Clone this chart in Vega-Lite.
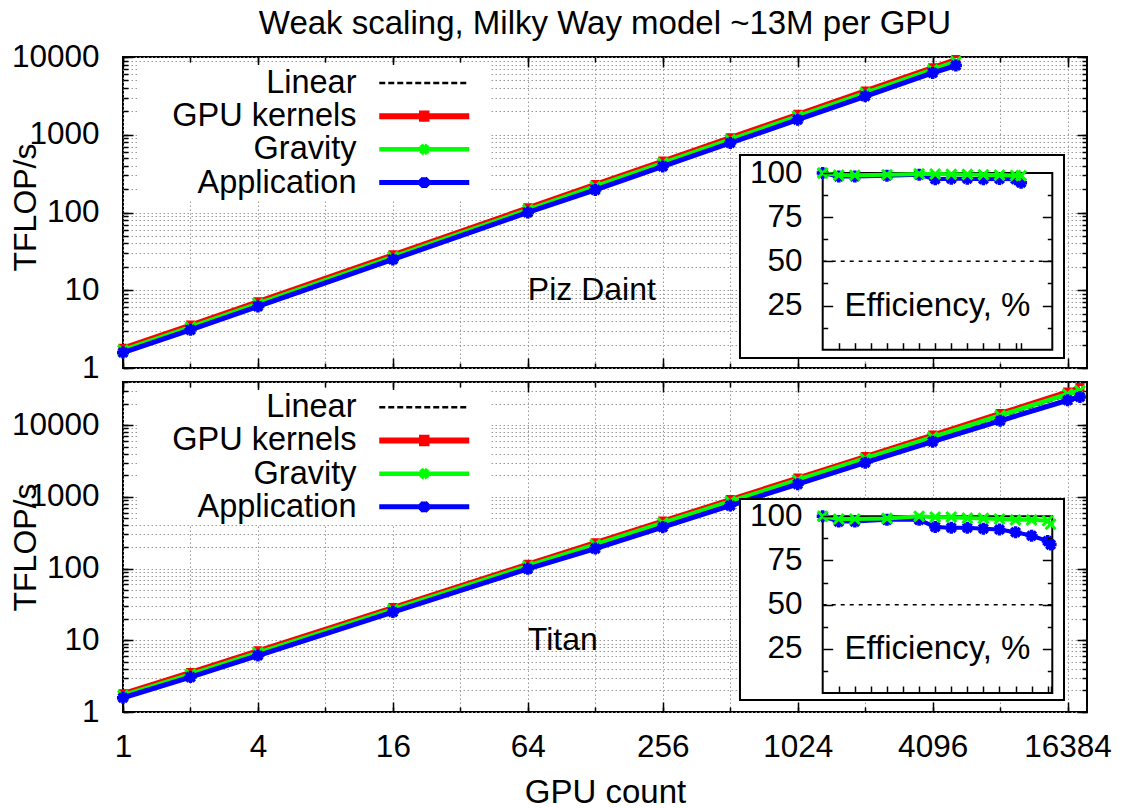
{
 "$schema": "https://vega.github.io/schema/vega-lite/v6.json",
 "background": "white",
 "padding": {"left": 8, "top": 7, "right": 10, "bottom": 2},
 "config": {
  "font": "Liberation Sans",
  "view": {"stroke": "black", "strokeWidth": 2},
  "axis": {"labelColor": "black", "titleColor": "black", "labelFont": "Liberation Sans", "titleFont": "Liberation Sans", "titleFontWeight": "normal"},
  "text": {"font": "Liberation Sans", "color": "black"}
 },
 "datasets": {
  "daint": [
   {"gpus":1,"series":"Linear","tflops":1.58},{"gpus":2,"series":"Linear","tflops":3.16},{"gpus":4,"series":"Linear","tflops":6.32},{"gpus":16,"series":"Linear","tflops":25.28},{"gpus":64,"series":"Linear","tflops":101.1},{"gpus":128,"series":"Linear","tflops":202.2},{"gpus":256,"series":"Linear","tflops":404.5},{"gpus":512,"series":"Linear","tflops":809},{"gpus":1024,"series":"Linear","tflops":1618},{"gpus":2048,"series":"Linear","tflops":3236},{"gpus":4096,"series":"Linear","tflops":6472},{"gpus":5200,"series":"Linear","tflops":8216},
   {"gpus":1,"series":"GPU kernels","tflops":1.8},{"gpus":2,"series":"GPU kernels","tflops":3.564},{"gpus":4,"series":"GPU kernels","tflops":7.128},{"gpus":16,"series":"GPU kernels","tflops":28.57},{"gpus":64,"series":"GPU kernels","tflops":114.7},{"gpus":128,"series":"GPU kernels","tflops":229.3},{"gpus":256,"series":"GPU kernels","tflops":458.5},{"gpus":512,"series":"GPU kernels","tflops":916.1},{"gpus":1024,"series":"GPU kernels","tflops":1830},{"gpus":2048,"series":"GPU kernels","tflops":3657},{"gpus":4096,"series":"GPU kernels","tflops":7299},{"gpus":5200,"series":"GPU kernels","tflops":9266},
   {"gpus":1,"series":"Gravity","tflops":1.7},{"gpus":2,"series":"Gravity","tflops":3.359},{"gpus":4,"series":"Gravity","tflops":6.712},{"gpus":16,"series":"Gravity","tflops":26.93},{"gpus":64,"series":"Gravity","tflops":108.3},{"gpus":128,"series":"Gravity","tflops":216.3},{"gpus":256,"series":"Gravity","tflops":432.2},{"gpus":512,"series":"Gravity","tflops":863.4},{"gpus":1024,"series":"Gravity","tflops":1723},{"gpus":2048,"series":"Gravity","tflops":3440},{"gpus":4096,"series":"Gravity","tflops":6866},{"gpus":5200,"series":"Gravity","tflops":8707},
   {"gpus":1,"series":"Application","tflops":1.58},{"gpus":2,"series":"Application","tflops":3.097},{"gpus":4,"series":"Application","tflops":6.194},{"gpus":16,"series":"Application","tflops":24.9},{"gpus":64,"series":"Application","tflops":100.1},{"gpus":128,"series":"Application","tflops":195.2},{"gpus":256,"series":"Application","tflops":391.5},{"gpus":512,"series":"Application","tflops":783.1},{"gpus":1024,"series":"Application","tflops":1561},{"gpus":2048,"series":"Application","tflops":3126},{"gpus":4096,"series":"Application","tflops":6245},{"gpus":5200,"series":"Application","tflops":7764}
  ],
  "titan": [
   {"gpus":1,"series":"Linear","tflops":1.58},{"gpus":2,"series":"Linear","tflops":3.16},{"gpus":4,"series":"Linear","tflops":6.32},{"gpus":16,"series":"Linear","tflops":25.28},{"gpus":64,"series":"Linear","tflops":101.1},{"gpus":128,"series":"Linear","tflops":202.2},{"gpus":256,"series":"Linear","tflops":404.5},{"gpus":512,"series":"Linear","tflops":809},{"gpus":1024,"series":"Linear","tflops":1618},{"gpus":2048,"series":"Linear","tflops":3236},{"gpus":4096,"series":"Linear","tflops":6472},{"gpus":8192,"series":"Linear","tflops":12943},{"gpus":16384,"series":"Linear","tflops":25887},{"gpus":18600,"series":"Linear","tflops":29388},
   {"gpus":1,"series":"GPU kernels","tflops":1.8},{"gpus":2,"series":"GPU kernels","tflops":3.564},{"gpus":4,"series":"GPU kernels","tflops":7.128},{"gpus":16,"series":"GPU kernels","tflops":28.57},{"gpus":64,"series":"GPU kernels","tflops":115.2},{"gpus":128,"series":"GPU kernels","tflops":229.9},{"gpus":256,"series":"GPU kernels","tflops":459.9},{"gpus":512,"series":"GPU kernels","tflops":917},{"gpus":1024,"series":"GPU kernels","tflops":1830},{"gpus":2048,"series":"GPU kernels","tflops":3650},{"gpus":4096,"series":"GPU kernels","tflops":7284},{"gpus":8192,"series":"GPU kernels","tflops":14569},{"gpus":16384,"series":"GPU kernels","tflops":29049},{"gpus":18600,"series":"GPU kernels","tflops":33490},
   {"gpus":1,"series":"Gravity","tflops":1.7},{"gpus":2,"series":"Gravity","tflops":3.349},{"gpus":4,"series":"Gravity","tflops":6.698},{"gpus":16,"series":"Gravity","tflops":26.87},{"gpus":64,"series":"Gravity","tflops":108.8},{"gpus":128,"series":"Gravity","tflops":216.5},{"gpus":256,"series":"Gravity","tflops":433},{"gpus":512,"series":"Gravity","tflops":861.7},{"gpus":1024,"series":"Gravity","tflops":1720},{"gpus":2048,"series":"Gravity","tflops":3429},{"gpus":4096,"series":"Gravity","tflops":6824},{"gpus":8192,"series":"Gravity","tflops":13648},{"gpus":16384,"series":"Gravity","tflops":27157},{"gpus":18600,"series":"Gravity","tflops":30197},
   {"gpus":1,"series":"Application","tflops":1.58},{"gpus":2,"series":"Application","tflops":3.065},{"gpus":4,"series":"Application","tflops":6.13},{"gpus":16,"series":"Application","tflops":24.77},{"gpus":64,"series":"Application","tflops":99.1},{"gpus":128,"series":"Application","tflops":190.1},{"gpus":256,"series":"Application","tflops":378.2},{"gpus":512,"series":"Application","tflops":756.4},{"gpus":1024,"series":"Application","tflops":1505},{"gpus":2048,"series":"Application","tflops":2993},{"gpus":4096,"series":"Application","tflops":5889},{"gpus":8192,"series":"Application","tflops":11520},{"gpus":16384,"series":"Application","tflops":22263},{"gpus":18600,"series":"Application","tflops":24686}
  ],
  "daint_eff": [
   {"gpus":1,"series":"Gravity","eff":100},{"gpus":2,"series":"Gravity","eff":98.8},{"gpus":4,"series":"Gravity","eff":98.7},{"gpus":16,"series":"Gravity","eff":99},{"gpus":64,"series":"Gravity","eff":99.5},{"gpus":128,"series":"Gravity","eff":99.4},{"gpus":256,"series":"Gravity","eff":99.3},{"gpus":512,"series":"Gravity","eff":99.2},{"gpus":1024,"series":"Gravity","eff":99},{"gpus":2048,"series":"Gravity","eff":98.8},{"gpus":4096,"series":"Gravity","eff":98.6},{"gpus":5200,"series":"Gravity","eff":98.5},
   {"gpus":1,"series":"Application","eff":100},{"gpus":2,"series":"Application","eff":98},{"gpus":4,"series":"Application","eff":98},{"gpus":16,"series":"Application","eff":98.5},{"gpus":64,"series":"Application","eff":99},{"gpus":128,"series":"Application","eff":96.5},{"gpus":256,"series":"Application","eff":96.8},{"gpus":512,"series":"Application","eff":96.8},{"gpus":1024,"series":"Application","eff":96.5},{"gpus":2048,"series":"Application","eff":96.6},{"gpus":4096,"series":"Application","eff":96.5},{"gpus":5200,"series":"Application","eff":94.5}
  ],
  "titan_eff": [
   {"gpus":1,"series":"Gravity","eff":100},{"gpus":2,"series":"Gravity","eff":98.5},{"gpus":4,"series":"Gravity","eff":98.5},{"gpus":16,"series":"Gravity","eff":98.8},{"gpus":64,"series":"Gravity","eff":100},{"gpus":128,"series":"Gravity","eff":99.5},{"gpus":256,"series":"Gravity","eff":99.5},{"gpus":512,"series":"Gravity","eff":99},{"gpus":1024,"series":"Gravity","eff":98.8},{"gpus":2048,"series":"Gravity","eff":98.5},{"gpus":4096,"series":"Gravity","eff":98},{"gpus":8192,"series":"Gravity","eff":98},{"gpus":16384,"series":"Gravity","eff":97.5},{"gpus":18600,"series":"Gravity","eff":95.5},
   {"gpus":1,"series":"Application","eff":100},{"gpus":2,"series":"Application","eff":97},{"gpus":4,"series":"Application","eff":97},{"gpus":16,"series":"Application","eff":98},{"gpus":64,"series":"Application","eff":98},{"gpus":128,"series":"Application","eff":94},{"gpus":256,"series":"Application","eff":93.5},{"gpus":512,"series":"Application","eff":93.5},{"gpus":1024,"series":"Application","eff":93},{"gpus":2048,"series":"Application","eff":92.5},{"gpus":4096,"series":"Application","eff":91},{"gpus":8192,"series":"Application","eff":89},{"gpus":16384,"series":"Application","eff":86},{"gpus":18600,"series":"Application","eff":84}
  ]
 },
 "spacing": 14,
 "bounds": "flush",
 "resolve": {"scale": {"color": "independent"}, "legend": {"color": "independent"}},
 "vconcat": [
  {
   "title": {"text": "Weak scaling, Milky Way model ~13M per GPU", "fontSize": 33, "fontWeight": "normal", "anchor": "middle", "baseline": "alphabetic", "offset": -26, "font": "Liberation Sans", "color": "black"},
   "width": 964,
   "height": 311,
   "layer": [
    {
     "layer": [
      {"data": {"name": "daint"}, "mark": {"type": "point", "opacity": 0},
       "encoding": {
        "x": {"field": "gpus", "type": "quantitative", "scale": {"type": "log", "domain": [1, 20000], "nice": false}, "axis": {"orient": "bottom", "values": [1,2,4,8,16,32,64,128,256,512,1024,2048,4096,8192,16384], "labels": false, "title": null, "domain": false, "tickSize": -5, "tickWidth": 1.5, "tickColor": "black", "grid": true, "gridColor": "#9a9a9a", "gridDash": [1.5, 2.5], "gridWidth": 1}},
        "y": {"field": "tflops", "type": "quantitative", "scale": {"type": "log", "domain": [1, 10000], "nice": false}, "axis": {"orient": "left", "values": [1,2,3,4,5,6,7,8,9,10,20,30,40,50,60,70,80,90,100,200,300,400,500,600,700,800,900,1000,2000,3000,4000,5000,6000,7000,8000,9000,10000], "labels": false, "title": null, "domain": false, "tickSize": -5, "tickWidth": 1.5, "tickColor": "black", "grid": true, "gridColor": "#9a9a9a", "gridDash": [1.5, 2.5], "gridWidth": 1}}
       }},
      {"data": {"name": "daint"}, "mark": {"type": "point", "opacity": 0},
       "encoding": {
        "x": {"field": "gpus", "type": "quantitative", "scale": {"type": "log", "domain": [1, 20000], "nice": false}, "axis": {"orient": "bottom", "values": [1,4,16,64,256,1024,4096,16384], "labels": false, "title": null, "domain": false, "tickSize": -10, "tickWidth": 1.5, "tickColor": "black", "grid": false}},
        "y": {"field": "tflops", "type": "quantitative", "scale": {"type": "log", "domain": [1, 10000], "nice": false}, "axis": {"orient": "left", "values": [1,10,100,1000,10000], "format": "d", "labelFontSize": 31.5, "labelPadding": 34, "labelFlush": false, "labelOverlap": false, "title": "TFLOP/s", "titleFontSize": 32, "titleX": -98, "titleY": 150, "titleAngle": -90, "titleAlign": "center", "titleBaseline": "middle", "domain": false, "tickSize": -10, "tickWidth": 1.5, "tickColor": "black", "grid": false}}
       }},
      {"data": {"name": "daint"}, "mark": {"type": "point", "opacity": 0},
       "encoding": {
        "x": {"field": "gpus", "type": "quantitative", "scale": {"type": "log", "domain": [1, 20000], "nice": false}, "axis": {"orient": "top", "values": [1,2,4,8,16,32,64,128,256,512,1024,2048,4096,8192,16384], "labels": false, "title": null, "domain": false, "tickSize": -5, "tickWidth": 1.5, "tickColor": "black", "grid": false}},
        "y": {"field": "tflops", "type": "quantitative", "scale": {"type": "log", "domain": [1, 10000], "nice": false}, "axis": {"orient": "right", "values": [1,2,3,4,5,6,7,8,9,10,20,30,40,50,60,70,80,90,100,200,300,400,500,600,700,800,900,1000,2000,3000,4000,5000,6000,7000,8000,9000,10000], "labels": false, "title": null, "domain": false, "tickSize": -5, "tickWidth": 1.5, "tickColor": "black", "grid": false}}
       }},
      {"data": {"name": "daint"}, "mark": {"type": "point", "opacity": 0},
       "encoding": {
        "x": {"field": "gpus", "type": "quantitative", "scale": {"type": "log", "domain": [1, 20000], "nice": false}, "axis": {"orient": "top", "values": [1,4,16,64,256,1024,4096,16384], "labels": false, "title": null, "domain": false, "tickSize": -10, "tickWidth": 1.5, "tickColor": "black", "grid": false}},
        "y": {"field": "tflops", "type": "quantitative", "scale": {"type": "log", "domain": [1, 10000], "nice": false}, "axis": {"orient": "right", "values": [1,10,100,1000,10000], "labels": false, "title": null, "domain": false, "tickSize": -10, "tickWidth": 1.5, "tickColor": "black", "grid": false}}
       }},
      {"data": {"values": [{}]},
       "mark": {"type": "rect", "fill": "white", "strokeWidth": 0},
       "encoding": {
        "x": {"datum": 1.178, "type": "quantitative", "scale": {"type": "log", "domain": [1, 20000], "nice": false}, "axis": null},
        "x2": {"datum": 43.1},
        "y": {"datum": 145, "type": "quantitative", "scale": {"type": "log", "domain": [1, 10000], "nice": false}, "axis": null},
        "y2": {"datum": 7890}
       }},
      {"data": {"name": "daint"}, "transform": [{"filter": "datum.series === 'Linear'"}],
       "mark": {"type": "line", "strokeWidth": 2, "strokeDash": [6, 4]},
       "encoding": {
        "x": {"field": "gpus", "type": "quantitative", "scale": {"type": "log", "domain": [1, 20000], "nice": false}, "axis": null},
        "y": {"field": "tflops", "type": "quantitative", "scale": {"type": "log", "domain": [1, 10000], "nice": false}, "axis": null},
        "color": {"field": "series", "type": "nominal", "scale": {"domain": ["Linear", "GPU kernels", "Gravity", "Application"], "range": ["#000000", "#ff0000", "#00ff00", "#0000ff"]},
         "legend": {"orient": "none", "legendX": 280, "legendY": 4.7, "title": null, "direction": "vertical", "symbolType": "M-1,0H1", "symbolSize": 8100, "symbolOffset": 0, "symbolStrokeWidth": 1.5, "labelAlign": "right", "labelOffset": -84, "labelFontSize": 32.5, "labelFont": "Liberation Sans", "labelColor": "black", "labelLimit": 500, "rowPadding": 0.2, "padding": 5, "zindex": 1,
          "encode": {"symbols": {"update": {
           "shape": {"signal": "datum.value === 'Linear' ? 'M-1,0H1' : datum.value === 'GPU kernels' ? 'M-1,0H1M-0.05,-0.06H0.05V0.06H-0.05Z' : datum.value === 'Gravity' ? 'M-1,0H1M-0.07,-0.1L0.07,0.1M-0.07,0.1L0.07,-0.1' : 'M-1,0H1M0,-0.12V0.12M-0.09,-0.09L0.09,0.09M-0.09,0.09L0.09,-0.09'"},
           "strokeWidth": {"signal": "datum.value === 'Linear' ? 2.5 : datum.value === 'GPU kernels' ? 6 : datum.value === 'Gravity' ? 4.5 : 5"},
           "strokeDash": {"signal": "datum.value === 'Linear' ? [6, 3] : [1, 0]"},
           "fill": {"value": "transparent"}
          }}}}}
       }},
      {"data": {"name": "daint"}, "transform": [{"filter": "datum.series === 'GPU kernels'"}],
       "mark": {"type": "line", "strokeWidth": 5},
       "encoding": {
        "x": {"field": "gpus", "type": "quantitative", "scale": {"type": "log", "domain": [1, 20000], "nice": false}, "axis": null},
        "y": {"field": "tflops", "type": "quantitative", "scale": {"type": "log", "domain": [1, 10000], "nice": false}, "axis": null},
        "color": {"field": "series", "type": "nominal"}
       }},
      {"data": {"name": "daint"}, "transform": [{"filter": "datum.series === 'GPU kernels'"}],
       "mark": {"type": "point", "shape": "M-0.6,-0.6H0.6V0.6H-0.6Z", "size": 100, "filled": false, "stroke": "#ff0000", "strokeWidth": 3, "opacity": 1},
       "encoding": {
        "x": {"field": "gpus", "type": "quantitative", "scale": {"type": "log", "domain": [1, 20000], "nice": false}, "axis": null},
        "y": {"field": "tflops", "type": "quantitative", "scale": {"type": "log", "domain": [1, 10000], "nice": false}, "axis": null}
       }},
      {"data": {"name": "daint"}, "transform": [{"filter": "datum.series === 'Gravity'"}],
       "mark": {"type": "line", "strokeWidth": 4.5},
       "encoding": {
        "x": {"field": "gpus", "type": "quantitative", "scale": {"type": "log", "domain": [1, 20000], "nice": false}, "axis": null},
        "y": {"field": "tflops", "type": "quantitative", "scale": {"type": "log", "domain": [1, 10000], "nice": false}, "axis": null},
        "color": {"field": "series", "type": "nominal"}
       }},
      {"data": {"name": "daint"}, "transform": [{"filter": "datum.series === 'Gravity'"}],
       "mark": {"type": "point", "shape": "M-1,-1L1,1M-1,1L1,-1", "size": 100, "filled": false, "stroke": "#00ff00", "strokeWidth": 3, "opacity": 1},
       "encoding": {
        "x": {"field": "gpus", "type": "quantitative", "scale": {"type": "log", "domain": [1, 20000], "nice": false}, "axis": null},
        "y": {"field": "tflops", "type": "quantitative", "scale": {"type": "log", "domain": [1, 10000], "nice": false}, "axis": null}
       }},
      {"data": {"name": "daint"}, "transform": [{"filter": "datum.series === 'Application'"}],
       "mark": {"type": "line", "strokeWidth": 5},
       "encoding": {
        "x": {"field": "gpus", "type": "quantitative", "scale": {"type": "log", "domain": [1, 20000], "nice": false}, "axis": null},
        "y": {"field": "tflops", "type": "quantitative", "scale": {"type": "log", "domain": [1, 10000], "nice": false}, "axis": null},
        "color": {"field": "series", "type": "nominal"}
       }},
      {"data": {"name": "daint"}, "transform": [{"filter": "datum.series === 'Application'"}],
       "mark": {"type": "point", "shape": "M-1,0H1M0,-1V1M-0.72,-0.72L0.72,0.72M-0.72,0.72L0.72,-0.72", "size": 144, "filled": false, "stroke": "#0000ff", "strokeWidth": 3.5, "opacity": 1},
       "encoding": {
        "x": {"field": "gpus", "type": "quantitative", "scale": {"type": "log", "domain": [1, 20000], "nice": false}, "axis": null},
        "y": {"field": "tflops", "type": "quantitative", "scale": {"type": "log", "domain": [1, 10000], "nice": false}, "axis": null}
       }},
      {"data": {"values": [{}]},
       "mark": {"type": "text", "text": "Piz Daint", "fontSize": 32, "align": "left", "baseline": "middle", "font": "Liberation Sans", "color": "black"},
       "encoding": {
        "x": {"datum": 64, "type": "quantitative", "scale": {"type": "log", "domain": [1, 20000], "nice": false}, "axis": null},
        "y": {"datum": 10, "type": "quantitative", "scale": {"type": "log", "domain": [1, 10000], "nice": false}, "axis": null}
       }}
     ],
     "resolve": {"axis": {"x": "independent", "y": "independent"}}
    },
    {
     "layer": [
      {"data": {"values": [{}]},
       "mark": {"type": "rect", "fill": "white", "stroke": "black", "strokeWidth": 2},
       "encoding": {
        "x": {"datum": 0.0282, "type": "quantitative", "scale": {"type": "log", "domain": [1, 20000], "range": [699.7, 929.3], "nice": false}, "axis": null},
        "x2": {"datum": 33140},
        "y": {"datum": -4.7, "type": "quantitative", "scale": {"type": "linear", "domain": [0, 100], "range": [292.7, 116], "nice": false, "zero": false}, "axis": null},
        "y2": {"datum": 110.2}
       }},
      {"data": {"name": "daint_eff"}, "mark": {"type": "point", "opacity": 0},
       "encoding": {
        "x": {"field": "gpus", "type": "quantitative", "scale": {"type": "log", "domain": [1, 20000], "range": [699.7, 929.3], "nice": false}, "axis": {"orient": "bottom", "offset": -18.3, "values": [2,4,8,16,32,64,128,256,512,1024,2048,4096,5200], "labels": false, "title": null, "domain": false, "tickSize": -7, "tickWidth": 1.5, "tickColor": "black", "grid": false, "zindex": 1}},
        "y": {"field": "eff", "type": "quantitative", "scale": {"type": "linear", "domain": [0, 100], "range": [292.7, 116], "nice": false, "zero": false}, "axis": {"orient": "left", "offset": -699.7, "values": [12.5, 37.5, 62.5, 87.5], "labels": false, "title": null, "domain": false, "tickSize": -5, "tickWidth": 1.5, "tickColor": "black", "grid": false, "zindex": 1}}
       }},
      {"data": {"name": "daint_eff"}, "mark": {"type": "point", "opacity": 0},
       "encoding": {
        "x": {"field": "gpus", "type": "quantitative", "scale": {"type": "log", "domain": [1, 20000], "range": [699.7, 929.3], "nice": false}, "axis": null},
        "y": {"field": "eff", "type": "quantitative", "scale": {"type": "linear", "domain": [0, 100], "range": [292.7, 116], "nice": false, "zero": false}, "axis": {"orient": "left", "offset": -699.7, "values": [25, 50, 75, 100], "format": "d", "labelFontSize": 31.5, "labelPadding": 30.7, "labelFlush": false, "labelOverlap": false, "title": null, "domain": false, "tickSize": -10, "tickWidth": 1.5, "tickColor": "black", "grid": false, "zindex": 1}}
       }},
      {"data": {"name": "daint_eff"}, "mark": {"type": "point", "opacity": 0},
       "encoding": {
        "x": {"field": "gpus", "type": "quantitative", "scale": {"type": "log", "domain": [1, 20000], "range": [699.7, 929.3], "nice": false}, "axis": null},
        "y": {"field": "eff", "type": "quantitative", "scale": {"type": "linear", "domain": [0, 100], "range": [292.7, 116], "nice": false, "zero": false}, "axis": {"orient": "right", "offset": -34.7, "values": [12.5, 37.5, 62.5, 87.5], "labels": false, "title": null, "domain": false, "tickSize": -5, "tickWidth": 1.5, "tickColor": "black", "grid": false, "zindex": 1}}
       }},
      {"data": {"name": "daint_eff"}, "mark": {"type": "point", "opacity": 0},
       "encoding": {
        "x": {"field": "gpus", "type": "quantitative", "scale": {"type": "log", "domain": [1, 20000], "range": [699.7, 929.3], "nice": false}, "axis": null},
        "y": {"field": "eff", "type": "quantitative", "scale": {"type": "linear", "domain": [0, 100], "range": [292.7, 116], "nice": false, "zero": false}, "axis": {"orient": "right", "offset": -34.7, "values": [25, 50, 75], "labels": false, "title": null, "domain": false, "tickSize": -10, "tickWidth": 1.5, "tickColor": "black", "grid": false, "zindex": 1}}
       }},
      {"data": {"values": [{}]},
       "mark": {"type": "rule", "stroke": "black", "strokeWidth": 1.5, "strokeDash": [4, 5]},
       "encoding": {
        "x": {"datum": 1, "type": "quantitative", "scale": {"type": "log", "domain": [1, 20000], "range": [699.7, 929.3], "nice": false}, "axis": null},
        "x2": {"datum": 20000},
        "y": {"datum": 50, "type": "quantitative", "scale": {"type": "linear", "domain": [0, 100], "range": [292.7, 116], "nice": false, "zero": false}, "axis": null}
       }},
      {"data": {"values": [{}]},
       "mark": {"type": "rect", "fill": "white", "fillOpacity": 0, "stroke": "black", "strokeWidth": 2},
       "encoding": {
        "x": {"datum": 1, "type": "quantitative", "scale": {"type": "log", "domain": [1, 20000], "range": [699.7, 929.3], "nice": false}, "axis": null},
        "x2": {"datum": 20000},
        "y": {"datum": 0, "type": "quantitative", "scale": {"type": "linear", "domain": [0, 100], "range": [292.7, 116], "nice": false, "zero": false}, "axis": null},
        "y2": {"datum": 100}
       }},
      {"data": {"name": "daint_eff"}, "transform": [{"filter": "datum.series === 'Application'"}],
       "mark": {"type": "line", "stroke": "#0000ff", "strokeWidth": 4},
       "encoding": {
        "x": {"field": "gpus", "type": "quantitative", "scale": {"type": "log", "domain": [1, 20000], "range": [699.7, 929.3], "nice": false}, "axis": null},
        "y": {"field": "eff", "type": "quantitative", "scale": {"type": "linear", "domain": [0, 100], "range": [292.7, 116], "nice": false, "zero": false}, "axis": null}
       }},
      {"data": {"name": "daint_eff"}, "transform": [{"filter": "datum.series === 'Application'"}],
       "mark": {"type": "point", "shape": "M-1,0H1M0,-1V1M-0.72,-0.72L0.72,0.72M-0.72,0.72L0.72,-0.72", "size": 144, "filled": false, "stroke": "#0000ff", "strokeWidth": 3.5, "opacity": 1},
       "encoding": {
        "x": {"field": "gpus", "type": "quantitative", "scale": {"type": "log", "domain": [1, 20000], "range": [699.7, 929.3], "nice": false}, "axis": null},
        "y": {"field": "eff", "type": "quantitative", "scale": {"type": "linear", "domain": [0, 100], "range": [292.7, 116], "nice": false, "zero": false}, "axis": null}
       }},
      {"data": {"name": "daint_eff"}, "transform": [{"filter": "datum.series === 'Gravity'"}],
       "mark": {"type": "line", "stroke": "#00ff00", "strokeWidth": 4},
       "encoding": {
        "x": {"field": "gpus", "type": "quantitative", "scale": {"type": "log", "domain": [1, 20000], "range": [699.7, 929.3], "nice": false}, "axis": null},
        "y": {"field": "eff", "type": "quantitative", "scale": {"type": "linear", "domain": [0, 100], "range": [292.7, 116], "nice": false, "zero": false}, "axis": null}
       }},
      {"data": {"name": "daint_eff"}, "transform": [{"filter": "datum.series === 'Gravity'"}],
       "mark": {"type": "point", "shape": "M-1,-1L1,1M-1,1L1,-1", "size": 100, "filled": false, "stroke": "#00ff00", "strokeWidth": 3, "opacity": 1},
       "encoding": {
        "x": {"field": "gpus", "type": "quantitative", "scale": {"type": "log", "domain": [1, 20000], "range": [699.7, 929.3], "nice": false}, "axis": null},
        "y": {"field": "eff", "type": "quantitative", "scale": {"type": "linear", "domain": [0, 100], "range": [292.7, 116], "nice": false, "zero": false}, "axis": null}
       }},
      {"data": {"values": [{}]},
       "mark": {"type": "text", "text": "Efficiency, %", "fontSize": 33, "align": "center", "baseline": "middle", "font": "Liberation Sans", "color": "black"},
       "encoding": {
        "x": {"datum": 141, "type": "quantitative", "scale": {"type": "log", "domain": [1, 20000], "range": [699.7, 929.3], "nice": false}, "axis": null},
        "y": {"datum": 25, "type": "quantitative", "scale": {"type": "linear", "domain": [0, 100], "range": [292.7, 116], "nice": false, "zero": false}, "axis": null}
       }}
     ],
     "resolve": {"axis": {"x": "independent", "y": "independent"}}
    }
   ],
   "resolve": {"scale": {"x": "independent", "y": "independent"}, "axis": {"x": "independent", "y": "independent"}}
  },
  {
   "width": 964,
   "height": 330,
   "layer": [
    {
     "layer": [
      {"data": {"name": "titan"}, "mark": {"type": "point", "opacity": 0},
       "encoding": {
        "x": {"field": "gpus", "type": "quantitative", "scale": {"type": "log", "domain": [1, 20000], "nice": false}, "axis": {"orient": "bottom", "values": [1,2,4,8,16,32,64,128,256,512,1024,2048,4096,8192,16384], "labels": false, "title": null, "domain": false, "tickSize": -5, "tickWidth": 1.5, "tickColor": "black", "grid": true, "gridColor": "#9a9a9a", "gridDash": [1.5, 2.5], "gridWidth": 1}},
        "y": {"field": "tflops", "type": "quantitative", "scale": {"type": "log", "domain": [1, 40000], "nice": false}, "axis": {"orient": "left", "values": [1,2,3,4,5,6,7,8,9,10,20,30,40,50,60,70,80,90,100,200,300,400,500,600,700,800,900,1000,2000,3000,4000,5000,6000,7000,8000,9000,10000,20000,30000,40000], "labels": false, "title": null, "domain": false, "tickSize": -5, "tickWidth": 1.5, "tickColor": "black", "grid": true, "gridColor": "#9a9a9a", "gridDash": [1.5, 2.5], "gridWidth": 1}}
       }},
      {"data": {"name": "titan"}, "mark": {"type": "point", "opacity": 0},
       "encoding": {
        "x": {"field": "gpus", "type": "quantitative", "scale": {"type": "log", "domain": [1, 20000], "nice": false}, "axis": {"orient": "bottom", "values": [1,4,16,64,256,1024,4096,16384], "format": "d", "labelFontSize": 31.5, "labelPadding": 29.4, "labelFlush": false, "labelOverlap": false, "title": "GPU count", "titleFontSize": 33, "titleX": 482, "titleY": 80, "titleAlign": "center", "titleBaseline": "middle", "domain": false, "tickSize": -10, "tickWidth": 1.5, "tickColor": "black", "grid": false}},
        "y": {"field": "tflops", "type": "quantitative", "scale": {"type": "log", "domain": [1, 40000], "nice": false}, "axis": {"orient": "left", "values": [1,10,100,1000,10000], "format": "d", "labelFontSize": 31.5, "labelPadding": 34, "labelFlush": false, "labelOverlap": false, "title": "TFLOP/s", "titleFontSize": 32, "titleX": -98, "titleY": 165, "titleAngle": -90, "titleAlign": "center", "titleBaseline": "middle", "domain": false, "tickSize": -10, "tickWidth": 1.5, "tickColor": "black", "grid": false}}
       }},
      {"data": {"name": "titan"}, "mark": {"type": "point", "opacity": 0},
       "encoding": {
        "x": {"field": "gpus", "type": "quantitative", "scale": {"type": "log", "domain": [1, 20000], "nice": false}, "axis": {"orient": "top", "values": [1,2,4,8,16,32,64,128,256,512,1024,2048,4096,8192,16384], "labels": false, "title": null, "domain": false, "tickSize": -5, "tickWidth": 1.5, "tickColor": "black", "grid": false}},
        "y": {"field": "tflops", "type": "quantitative", "scale": {"type": "log", "domain": [1, 40000], "nice": false}, "axis": {"orient": "right", "values": [1,2,3,4,5,6,7,8,9,10,20,30,40,50,60,70,80,90,100,200,300,400,500,600,700,800,900,1000,2000,3000,4000,5000,6000,7000,8000,9000,10000,20000,30000,40000], "labels": false, "title": null, "domain": false, "tickSize": -5, "tickWidth": 1.5, "tickColor": "black", "grid": false}}
       }},
      {"data": {"name": "titan"}, "mark": {"type": "point", "opacity": 0},
       "encoding": {
        "x": {"field": "gpus", "type": "quantitative", "scale": {"type": "log", "domain": [1, 20000], "nice": false}, "axis": {"orient": "top", "values": [1,4,16,64,256,1024,4096,16384], "labels": false, "title": null, "domain": false, "tickSize": -10, "tickWidth": 1.5, "tickColor": "black", "grid": false}},
        "y": {"field": "tflops", "type": "quantitative", "scale": {"type": "log", "domain": [1, 40000], "nice": false}, "axis": {"orient": "right", "values": [1,10,100,1000,10000], "labels": false, "title": null, "domain": false, "tickSize": -10, "tickWidth": 1.5, "tickColor": "black", "grid": false}}
       }},
      {"data": {"values": [{}]},
       "mark": {"type": "rect", "fill": "white", "strokeWidth": 0},
       "encoding": {
        "x": {"datum": 1.178, "type": "quantitative", "scale": {"type": "log", "domain": [1, 20000], "nice": false}, "axis": null},
        "x2": {"datum": 43.1},
        "y": {"datum": 405, "type": "quantitative", "scale": {"type": "log", "domain": [1, 40000], "nice": false}, "axis": null},
        "y2": {"datum": 30900}
       }},
      {"data": {"name": "titan"}, "transform": [{"filter": "datum.series === 'Linear'"}],
       "mark": {"type": "line", "strokeWidth": 2, "strokeDash": [6, 4]},
       "encoding": {
        "x": {"field": "gpus", "type": "quantitative", "scale": {"type": "log", "domain": [1, 20000], "nice": false}, "axis": null},
        "y": {"field": "tflops", "type": "quantitative", "scale": {"type": "log", "domain": [1, 40000], "nice": false}, "axis": null},
        "color": {"field": "series", "type": "nominal", "scale": {"domain": ["Linear", "GPU kernels", "Gravity", "Application"], "range": ["#000000", "#ff0000", "#00ff00", "#0000ff"]},
         "legend": {"orient": "none", "legendX": 280, "legendY": 4, "title": null, "direction": "vertical", "symbolType": "M-1,0H1", "symbolSize": 8100, "symbolOffset": 0, "symbolStrokeWidth": 1.5, "labelAlign": "right", "labelOffset": -84, "labelFontSize": 32.5, "labelFont": "Liberation Sans", "labelColor": "black", "labelLimit": 500, "rowPadding": 0.2, "padding": 5, "zindex": 1,
          "encode": {"symbols": {"update": {
           "shape": {"signal": "datum.value === 'Linear' ? 'M-1,0H1' : datum.value === 'GPU kernels' ? 'M-1,0H1M-0.05,-0.06H0.05V0.06H-0.05Z' : datum.value === 'Gravity' ? 'M-1,0H1M-0.07,-0.1L0.07,0.1M-0.07,0.1L0.07,-0.1' : 'M-1,0H1M0,-0.12V0.12M-0.09,-0.09L0.09,0.09M-0.09,0.09L0.09,-0.09'"},
           "strokeWidth": {"signal": "datum.value === 'Linear' ? 2.5 : datum.value === 'GPU kernels' ? 6 : datum.value === 'Gravity' ? 4.5 : 5"},
           "strokeDash": {"signal": "datum.value === 'Linear' ? [6, 3] : [1, 0]"},
           "fill": {"value": "transparent"}
          }}}}}
       }},
      {"data": {"name": "titan"}, "transform": [{"filter": "datum.series === 'GPU kernels'"}],
       "mark": {"type": "line", "strokeWidth": 5},
       "encoding": {
        "x": {"field": "gpus", "type": "quantitative", "scale": {"type": "log", "domain": [1, 20000], "nice": false}, "axis": null},
        "y": {"field": "tflops", "type": "quantitative", "scale": {"type": "log", "domain": [1, 40000], "nice": false}, "axis": null},
        "color": {"field": "series", "type": "nominal"}
       }},
      {"data": {"name": "titan"}, "transform": [{"filter": "datum.series === 'GPU kernels'"}],
       "mark": {"type": "point", "shape": "M-0.6,-0.6H0.6V0.6H-0.6Z", "size": 100, "filled": false, "stroke": "#ff0000", "strokeWidth": 3, "opacity": 1},
       "encoding": {
        "x": {"field": "gpus", "type": "quantitative", "scale": {"type": "log", "domain": [1, 20000], "nice": false}, "axis": null},
        "y": {"field": "tflops", "type": "quantitative", "scale": {"type": "log", "domain": [1, 40000], "nice": false}, "axis": null}
       }},
      {"data": {"name": "titan"}, "transform": [{"filter": "datum.series === 'Gravity'"}],
       "mark": {"type": "line", "strokeWidth": 4.5},
       "encoding": {
        "x": {"field": "gpus", "type": "quantitative", "scale": {"type": "log", "domain": [1, 20000], "nice": false}, "axis": null},
        "y": {"field": "tflops", "type": "quantitative", "scale": {"type": "log", "domain": [1, 40000], "nice": false}, "axis": null},
        "color": {"field": "series", "type": "nominal"}
       }},
      {"data": {"name": "titan"}, "transform": [{"filter": "datum.series === 'Gravity'"}],
       "mark": {"type": "point", "shape": "M-1,-1L1,1M-1,1L1,-1", "size": 100, "filled": false, "stroke": "#00ff00", "strokeWidth": 3, "opacity": 1},
       "encoding": {
        "x": {"field": "gpus", "type": "quantitative", "scale": {"type": "log", "domain": [1, 20000], "nice": false}, "axis": null},
        "y": {"field": "tflops", "type": "quantitative", "scale": {"type": "log", "domain": [1, 40000], "nice": false}, "axis": null}
       }},
      {"data": {"name": "titan"}, "transform": [{"filter": "datum.series === 'Application'"}],
       "mark": {"type": "line", "strokeWidth": 5},
       "encoding": {
        "x": {"field": "gpus", "type": "quantitative", "scale": {"type": "log", "domain": [1, 20000], "nice": false}, "axis": null},
        "y": {"field": "tflops", "type": "quantitative", "scale": {"type": "log", "domain": [1, 40000], "nice": false}, "axis": null},
        "color": {"field": "series", "type": "nominal"}
       }},
      {"data": {"name": "titan"}, "transform": [{"filter": "datum.series === 'Application'"}],
       "mark": {"type": "point", "shape": "M-1,0H1M0,-1V1M-0.72,-0.72L0.72,0.72M-0.72,0.72L0.72,-0.72", "size": 144, "filled": false, "stroke": "#0000ff", "strokeWidth": 3.5, "opacity": 1},
       "encoding": {
        "x": {"field": "gpus", "type": "quantitative", "scale": {"type": "log", "domain": [1, 20000], "nice": false}, "axis": null},
        "y": {"field": "tflops", "type": "quantitative", "scale": {"type": "log", "domain": [1, 40000], "nice": false}, "axis": null}
       }},
      {"data": {"values": [{}]},
       "mark": {"type": "text", "text": "Titan", "fontSize": 32, "align": "left", "baseline": "middle", "font": "Liberation Sans", "color": "black"},
       "encoding": {
        "x": {"datum": 64, "type": "quantitative", "scale": {"type": "log", "domain": [1, 20000], "nice": false}, "axis": null},
        "y": {"datum": 10, "type": "quantitative", "scale": {"type": "log", "domain": [1, 40000], "nice": false}, "axis": null}
       }}
     ],
     "resolve": {"axis": {"x": "independent", "y": "independent"}}
    },
    {
     "layer": [
      {"data": {"values": [{}]},
       "mark": {"type": "rect", "fill": "white", "stroke": "black", "strokeWidth": 2},
       "encoding": {
        "x": {"datum": 0.0282, "type": "quantitative", "scale": {"type": "log", "domain": [1, 20000], "range": [699.7, 929.3], "nice": false}, "axis": null},
        "x2": {"datum": 33140},
        "y": {"datum": -4, "type": "quantitative", "scale": {"type": "linear", "domain": [0, 100], "range": [311, 134.3], "nice": false, "zero": false}, "axis": null},
        "y2": {"datum": 109.8}
       }},
      {"data": {"name": "titan_eff"}, "mark": {"type": "point", "opacity": 0},
       "encoding": {
        "x": {"field": "gpus", "type": "quantitative", "scale": {"type": "log", "domain": [1, 20000], "range": [699.7, 929.3], "nice": false}, "axis": {"orient": "bottom", "offset": -19, "values": [2,4,8,16,32,64,128,256,512,1024,2048,4096,8192,16384,18600], "labels": false, "title": null, "domain": false, "tickSize": -7, "tickWidth": 1.5, "tickColor": "black", "grid": false, "zindex": 1}},
        "y": {"field": "eff", "type": "quantitative", "scale": {"type": "linear", "domain": [0, 100], "range": [311, 134.3], "nice": false, "zero": false}, "axis": {"orient": "left", "offset": -699.7, "values": [12.5, 37.5, 62.5, 87.5], "labels": false, "title": null, "domain": false, "tickSize": -5, "tickWidth": 1.5, "tickColor": "black", "grid": false, "zindex": 1}}
       }},
      {"data": {"name": "titan_eff"}, "mark": {"type": "point", "opacity": 0},
       "encoding": {
        "x": {"field": "gpus", "type": "quantitative", "scale": {"type": "log", "domain": [1, 20000], "range": [699.7, 929.3], "nice": false}, "axis": null},
        "y": {"field": "eff", "type": "quantitative", "scale": {"type": "linear", "domain": [0, 100], "range": [311, 134.3], "nice": false, "zero": false}, "axis": {"orient": "left", "offset": -699.7, "values": [25, 50, 75, 100], "format": "d", "labelFontSize": 31.5, "labelPadding": 30.7, "labelFlush": false, "labelOverlap": false, "title": null, "domain": false, "tickSize": -10, "tickWidth": 1.5, "tickColor": "black", "grid": false, "zindex": 1}}
       }},
      {"data": {"name": "titan_eff"}, "mark": {"type": "point", "opacity": 0},
       "encoding": {
        "x": {"field": "gpus", "type": "quantitative", "scale": {"type": "log", "domain": [1, 20000], "range": [699.7, 929.3], "nice": false}, "axis": null},
        "y": {"field": "eff", "type": "quantitative", "scale": {"type": "linear", "domain": [0, 100], "range": [311, 134.3], "nice": false, "zero": false}, "axis": {"orient": "right", "offset": -34.7, "values": [12.5, 37.5, 62.5, 87.5], "labels": false, "title": null, "domain": false, "tickSize": -5, "tickWidth": 1.5, "tickColor": "black", "grid": false, "zindex": 1}}
       }},
      {"data": {"name": "titan_eff"}, "mark": {"type": "point", "opacity": 0},
       "encoding": {
        "x": {"field": "gpus", "type": "quantitative", "scale": {"type": "log", "domain": [1, 20000], "range": [699.7, 929.3], "nice": false}, "axis": null},
        "y": {"field": "eff", "type": "quantitative", "scale": {"type": "linear", "domain": [0, 100], "range": [311, 134.3], "nice": false, "zero": false}, "axis": {"orient": "right", "offset": -34.7, "values": [25, 50, 75], "labels": false, "title": null, "domain": false, "tickSize": -10, "tickWidth": 1.5, "tickColor": "black", "grid": false, "zindex": 1}}
       }},
      {"data": {"values": [{}]},
       "mark": {"type": "rule", "stroke": "black", "strokeWidth": 1.5, "strokeDash": [4, 5]},
       "encoding": {
        "x": {"datum": 1, "type": "quantitative", "scale": {"type": "log", "domain": [1, 20000], "range": [699.7, 929.3], "nice": false}, "axis": null},
        "x2": {"datum": 20000},
        "y": {"datum": 50, "type": "quantitative", "scale": {"type": "linear", "domain": [0, 100], "range": [311, 134.3], "nice": false, "zero": false}, "axis": null}
       }},
      {"data": {"values": [{}]},
       "mark": {"type": "rect", "fill": "white", "fillOpacity": 0, "stroke": "black", "strokeWidth": 2},
       "encoding": {
        "x": {"datum": 1, "type": "quantitative", "scale": {"type": "log", "domain": [1, 20000], "range": [699.7, 929.3], "nice": false}, "axis": null},
        "x2": {"datum": 20000},
        "y": {"datum": 0, "type": "quantitative", "scale": {"type": "linear", "domain": [0, 100], "range": [311, 134.3], "nice": false, "zero": false}, "axis": null},
        "y2": {"datum": 100}
       }},
      {"data": {"name": "titan_eff"}, "transform": [{"filter": "datum.series === 'Application'"}],
       "mark": {"type": "line", "stroke": "#0000ff", "strokeWidth": 4},
       "encoding": {
        "x": {"field": "gpus", "type": "quantitative", "scale": {"type": "log", "domain": [1, 20000], "range": [699.7, 929.3], "nice": false}, "axis": null},
        "y": {"field": "eff", "type": "quantitative", "scale": {"type": "linear", "domain": [0, 100], "range": [311, 134.3], "nice": false, "zero": false}, "axis": null}
       }},
      {"data": {"name": "titan_eff"}, "transform": [{"filter": "datum.series === 'Application'"}],
       "mark": {"type": "point", "shape": "M-1,0H1M0,-1V1M-0.72,-0.72L0.72,0.72M-0.72,0.72L0.72,-0.72", "size": 144, "filled": false, "stroke": "#0000ff", "strokeWidth": 3.5, "opacity": 1},
       "encoding": {
        "x": {"field": "gpus", "type": "quantitative", "scale": {"type": "log", "domain": [1, 20000], "range": [699.7, 929.3], "nice": false}, "axis": null},
        "y": {"field": "eff", "type": "quantitative", "scale": {"type": "linear", "domain": [0, 100], "range": [311, 134.3], "nice": false, "zero": false}, "axis": null}
       }},
      {"data": {"name": "titan_eff"}, "transform": [{"filter": "datum.series === 'Gravity'"}],
       "mark": {"type": "line", "stroke": "#00ff00", "strokeWidth": 4},
       "encoding": {
        "x": {"field": "gpus", "type": "quantitative", "scale": {"type": "log", "domain": [1, 20000], "range": [699.7, 929.3], "nice": false}, "axis": null},
        "y": {"field": "eff", "type": "quantitative", "scale": {"type": "linear", "domain": [0, 100], "range": [311, 134.3], "nice": false, "zero": false}, "axis": null}
       }},
      {"data": {"name": "titan_eff"}, "transform": [{"filter": "datum.series === 'Gravity'"}],
       "mark": {"type": "point", "shape": "M-1,-1L1,1M-1,1L1,-1", "size": 100, "filled": false, "stroke": "#00ff00", "strokeWidth": 3, "opacity": 1},
       "encoding": {
        "x": {"field": "gpus", "type": "quantitative", "scale": {"type": "log", "domain": [1, 20000], "range": [699.7, 929.3], "nice": false}, "axis": null},
        "y": {"field": "eff", "type": "quantitative", "scale": {"type": "linear", "domain": [0, 100], "range": [311, 134.3], "nice": false, "zero": false}, "axis": null}
       }},
      {"data": {"values": [{}]},
       "mark": {"type": "text", "text": "Efficiency, %", "fontSize": 33, "align": "center", "baseline": "middle", "font": "Liberation Sans", "color": "black"},
       "encoding": {
        "x": {"datum": 141, "type": "quantitative", "scale": {"type": "log", "domain": [1, 20000], "range": [699.7, 929.3], "nice": false}, "axis": null},
        "y": {"datum": 25, "type": "quantitative", "scale": {"type": "linear", "domain": [0, 100], "range": [311, 134.3], "nice": false, "zero": false}, "axis": null}
       }}
     ],
     "resolve": {"axis": {"x": "independent", "y": "independent"}}
    }
   ],
   "resolve": {"scale": {"x": "independent", "y": "independent"}, "axis": {"x": "independent", "y": "independent"}}
  }
 ]
}
